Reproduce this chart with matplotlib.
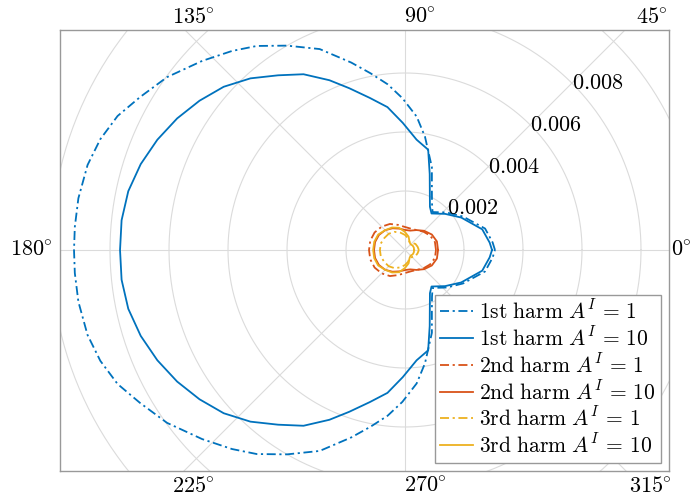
import numpy as np
import matplotlib.pyplot as plt

plt.rcParams['mathtext.fontset'] = 'cm'
plt.rcParams['font.family'] = 'serif'

# amplitude patterns (upper half, pattern is symmetric about 0 deg)
theta_h1_a1 = [0, 5, 15, 30, 42, 54, 60, 66, 72, 80, 85, 91, 96, 101, 106, 113,
               120, 126, 131, 137, 144, 150, 155, 160, 165, 171, 176, 180]
r_h1_a1 = [0.00305, 0.00298, 0.00281, 0.00227, 0.00190, 0.00159, 0.00183, 0.00224,
           0.00295, 0.00390, 0.00454, 0.00515, 0.00565, 0.00610, 0.00661, 0.00740,
           0.00800, 0.00855, 0.00894, 0.00940, 0.00997, 0.01037, 0.01075, 0.01099,
           0.01114, 0.01121, 0.01122, 0.01122]

theta_h1_a10 = [0, 5, 15, 30, 42, 54, 60, 66, 72, 77, 84, 91, 97, 103, 109, 114,
                120, 126, 132, 138, 144, 150, 156, 162, 168, 174, 180]
r_h1_a10 = [0.00295, 0.00288, 0.00271, 0.00220, 0.00183, 0.00153, 0.00169, 0.00207,
            0.00271, 0.00349, 0.00376, 0.00431, 0.00488, 0.00529, 0.00580, 0.00630,
            0.00688, 0.00732, 0.00783, 0.00827, 0.00861, 0.00892, 0.00919, 0.00942,
            0.00959, 0.00966, 0.00966]

theta_small = [0, 15, 30, 45, 60, 75, 90, 105, 120, 135, 150, 165, 180]
r_h2_a1 = [0.00105, 0.00105, 0.00098, 0.00088, 0.00078, 0.00075, 0.00078,
           0.00088, 0.00102, 0.00112, 0.00119, 0.00122, 0.00122]
r_h2_a10 = [0.00112, 0.00112, 0.00105, 0.00092, 0.00078, 0.00068, 0.00068,
            0.00075, 0.00085, 0.00095, 0.00102, 0.00105, 0.00105]
r_h3_a1 = [0.00047, 0.00044, 0.00041, 0.00034, 0.00031, 0.00041, 0.00051,
           0.00061, 0.00071, 0.00078, 0.00081, 0.00085, 0.00085]
r_h3_a10 = [0.00031, 0.00031, 0.00030, 0.00027, 0.00031, 0.00047, 0.00061,
            0.00078, 0.00088, 0.00095, 0.00105, 0.00108, 0.00108]

ring_values = [0.002, 0.004, 0.006, 0.008, 0.010, 0.012, 0.014]
ring_labels = ['0.002', '0.004', '0.006', '0.008']
spoke_angles = [0, 45, 90, 135, 180, 225, 270, 315]

blue = '#0072BD'
red = '#D95319'
yellow = '#EDB120'
dashdot = (0, (5, 2, 1.2, 2))


def to_xy(theta_deg, r):
    # close the pattern by mirroring the upper half
    th = np.deg2rad(np.concatenate([theta_deg, -np.array(theta_deg[::-1])]))
    rr = np.concatenate([r, r[::-1]])
    return rr * np.cos(th), rr * np.sin(th)


fig = plt.figure(figsize=(6.9, 5.0), dpi=100)
ax = fig.add_axes([60 / 690, 29 / 500, 609 / 690, 441 / 500])

# grid circles and spokes
t = np.linspace(0, 2 * np.pi, 400)
for rv in ring_values:
    ax.plot(rv * np.cos(t), rv * np.sin(t), color='0.86', lw=0.8, zorder=1)
for a in spoke_angles:
    ax.plot([0, 0.03 * np.cos(np.deg2rad(a))], [0, 0.03 * np.sin(np.deg2rad(a))],
            color='0.86', lw=0.8, zorder=1)

series = [
    (theta_h1_a1, r_h1_a1, blue, dashdot, r'$\mathrm{1st\ harm}\ A^I\,=\,1$'),
    (theta_h1_a10, r_h1_a10, blue, '-', r'$\mathrm{1st\ harm}\ A^I\,=\,10$'),
    (theta_small, r_h2_a1, red, dashdot, r'$\mathrm{2nd\ harm}\ A^I\,=\,1$'),
    (theta_small, r_h2_a10, red, '-', r'$\mathrm{2nd\ harm}\ A^I\,=\,10$'),
    (theta_small, r_h3_a1, yellow, dashdot, r'$\mathrm{3rd\ harm}\ A^I\,=\,1$'),
    (theta_small, r_h3_a10, yellow, '-', r'$\mathrm{3rd\ harm}\ A^I\,=\,10$'),
]
for th, r, c, ls, lab in series:
    x, y = to_xy(th, r)
    ax.plot(x, y, color=c, linestyle=ls, lw=1.3, label=lab, zorder=3)

# radial labels along the 45 deg spoke
for rv, lab in zip(ring_values, ring_labels):
    ax.text(rv * np.cos(np.pi / 4), rv * np.sin(np.pi / 4), '$' + lab + '$',
            ha='left', va='center', fontsize=16, zorder=4)

ax.set_xlim(-0.011695, 0.008949)
ax.set_ylim(-0.007492, 0.007458)
ax.set_xticks([])
ax.set_yticks([])
for s in ax.spines.values():
    s.set_color('0.6')
    s.set_linewidth(1.0)

# angle labels around the box
angle_pos = [('0', 671, 250, 'left'), ('45', 652, 17, 'center'),
             ('90', 420, 17, 'center'), ('135', 193, 17, 'center'),
             ('180', 31, 250, 'center'), ('225', 193, 486, 'center'),
             ('270', 425, 486, 'center'), ('315', 650, 486, 'center')]
for lab, px, py, ha in angle_pos:
    fig.text(px / 690, 1 - py / 500, r'$%s\!^\circ$' % lab, ha=ha, va='center',
             fontsize=16)

leg = ax.legend(loc='lower right', bbox_to_anchor=(0.987, 0.018), borderaxespad=0,
                fontsize=15.5, handlelength=1.5, labelspacing=0.14,
                handletextpad=0.3, borderpad=0.25, fancybox=False, framealpha=1)
leg.get_frame().set_edgecolor('0.6')
leg.get_frame().set_linewidth(1.0)

fig.savefig('out.png', dpi=100)
